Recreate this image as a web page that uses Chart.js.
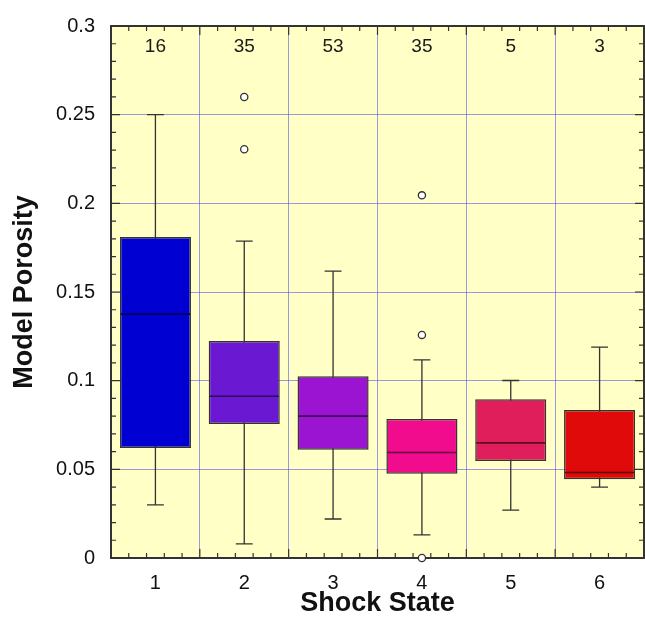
<!DOCTYPE html>
<html lang="en">
<head>
  <meta charset="UTF-8">
  <title>Model Porosity by Shock State</title>
  <script src="https://cdn.jsdelivr.net/npm/chart.js"></script>
  <style>
    body {
      margin: 0;
      background: white;
    }

    .chart-box {
      width: 645px;
      height: 628px;
      position: relative;
    }
  </style>
</head>
<body>
  <div class="chart-box">
    <canvas id="porosityChart"></canvas>
  </div>

  <script>
    // box plot values per shock state
    const categories = ['1', '2', '3', '4', '5', '6'];
    const counts = [16, 35, 53, 35, 5, 3];
    const whiskerLow = [0.030, 0.008, 0.022, 0.013, 0.027, 0.040];
    const q1 = [0.062, 0.0755, 0.061, 0.0475, 0.0547, 0.0444];
    const medians = [0.1375, 0.0912, 0.080, 0.0595, 0.0649, 0.0482];
    const q3 = [0.181, 0.1223, 0.1025, 0.0784, 0.0895, 0.0835];
    const whiskerHigh = [0.250, 0.1787, 0.1618, 0.1117, 0.1001, 0.1189];
    const outlierCats = ['2', '2', '4', '4', '4'];
    const outlierVals = [0.260, 0.2305, 0.2045, 0.1258, 0.0];
    const yTicks = [0, 0.05, 0.1, 0.15, 0.2, 0.25, 0.3];
    const yTickLabels = ['0', '0.05', '0.1', '0.15', '0.2', '0.25', '0.3'];

    const boxColors = ['#0000d2', '#6a18d2', '#9a14d2', '#f00c8c', '#e01e5c', '#e00a0a'];
    const inkColor = '#333333';
    const gridColor = 'rgba(70, 70, 235, 0.55)';
    const fontFamily = '"Liberation Sans", Arial, Helvetica, sans-serif';

    function shade(hex, f) {
      const n = parseInt(hex.slice(1), 16);
      const r = Math.round(((n >> 16) & 255) * f);
      const g = Math.round(((n >> 8) & 255) * f);
      const b = Math.round((n & 255) * f);
      return `rgb(${r}, ${g}, ${b})`;
    }

    const boxParts = {
      id: 'boxParts',
      beforeDraw(chart) {
        const { ctx, chartArea: a } = chart;
        ctx.save();
        ctx.fillStyle = '#ffffc6';
        ctx.fillRect(a.left, a.top, a.right - a.left, a.bottom - a.top);
        ctx.restore();
      },
      beforeDatasetsDraw(chart) {
        const { ctx, chartArea: a, scales: { x, y } } = chart;
        const step = x.getPixelForValue(1) - x.getPixelForValue(0);
        ctx.save();

        // whiskers, behind the boxes
        ctx.strokeStyle = inkColor;
        ctx.lineWidth = 1.3;
        categories.forEach((c, i) => {
          const cx = x.getPixelForValue(i);
          const lo = y.getPixelForValue(whiskerLow[i]);
          const hi = y.getPixelForValue(whiskerHigh[i]);
          const cap = step * 0.095;
          ctx.beginPath();
          ctx.moveTo(cx, lo);
          ctx.lineTo(cx, hi);
          ctx.moveTo(cx - cap, lo);
          ctx.lineTo(cx + cap, lo);
          ctx.moveTo(cx - cap, hi);
          ctx.lineTo(cx + cap, hi);
          ctx.stroke();
        });

        // inward tick marks on all four sides
        ctx.lineWidth = 1.2;
        ctx.beginPath();
        for (let k = 0; k <= 30; k++) {
          const py = y.getPixelForValue(k / 100);
          const len = k % 5 === 0 ? 9 : 5;
          ctx.moveTo(a.left, py);
          ctx.lineTo(a.left + len, py);
          ctx.moveTo(a.right, py);
          ctx.lineTo(a.right - len, py);
        }
        const x0 = x.getPixelForValue(0) - step / 2;
        for (let k = 0; k <= categories.length * 5; k++) {
          const px = x0 + k * step / 5;
          const len = k % 5 === 0 ? 9 : 5;
          ctx.moveTo(px, a.bottom);
          ctx.lineTo(px, a.bottom - len);
          ctx.moveTo(px, a.top);
          ctx.lineTo(px, a.top + len);
        }
        ctx.stroke();

        // frame
        ctx.lineWidth = 2;
        ctx.strokeRect(a.left, a.top, a.right - a.left, a.bottom - a.top);
        ctx.restore();
      },
      afterDatasetsDraw(chart) {
        const { ctx, chartArea: a, scales: { x, y } } = chart;
        const bars = chart.getDatasetMeta(0).data;
        ctx.save();
        ctx.lineWidth = 1.6;
        categories.forEach((c, i) => {
          const bar = bars[i];
          const half = bar.width / 2;
          const my = y.getPixelForValue(medians[i]);
          ctx.strokeStyle = shade(boxColors[i], 0.4);
          ctx.beginPath();
          ctx.moveTo(bar.x - half + 1, my);
          ctx.lineTo(bar.x + half - 1, my);
          ctx.stroke();
        });

        // sample counts along the top
        ctx.fillStyle = '#1a1a1a';
        ctx.font = `19px ${fontFamily}`;
        ctx.textAlign = 'center';
        ctx.textBaseline = 'middle';
        counts.forEach((n, i) => {
          ctx.fillText(String(n), x.getPixelForValue(i), a.top + 21);
        });
        ctx.restore();
      }
    };

    const ctx = document.getElementById('porosityChart').getContext('2d');
    const porosityChart = new Chart(ctx, {
      type: 'bar',
      data: {
        labels: categories,
        datasets: [{
          label: 'Model Porosity',
          data: categories.map((c, i) => [q1[i], q3[i]]),
          backgroundColor: boxColors,
          borderColor: inkColor,
          borderWidth: 1.5,
          borderSkipped: false,
          barPercentage: 0.8,
          categoryPercentage: 1.0
        }, {
          type: 'scatter',
          label: 'Outliers',
          data: outlierCats.map((c, i) => ({ x: c, y: outlierVals[i] })),
          pointRadius: 3.6,
          pointBackgroundColor: '#ffffff',
          pointBorderColor: inkColor,
          pointBorderWidth: 1.3,
          clip: false
        }]
      },
      options: {
        responsive: true,
        maintainAspectRatio: false,
        animation: false,
        layout: {
          autoPadding: false,
          padding: { left: 0, top: 26, right: 1, bottom: 0 }
        },
        plugins: {
          legend: { display: false },
          tooltip: { enabled: false }
        },
        scales: {
          x: {
            type: 'category',
            offset: true,
            afterFit: s => {
              s.height = 70;
              s.paddingLeft = 0;
              s.paddingRight = 0;
            },
            grid: {
              offset: true,
              drawTicks: false,
              color: gridColor,
              lineWidth: 1
            },
            border: { display: false },
            ticks: {
              padding: 13,
              color: '#111',
              font: { family: fontFamily, size: 20 }
            },
            title: {
              display: true,
              text: 'Shock State',
              color: '#111',
              padding: { top: 0, bottom: 8 },
              font: { family: fontFamily, size: 27, weight: 'bold' }
            }
          },
          y: {
            min: 0,
            max: 0.3,
            afterFit: s => {
              s.width = 111;
              s.paddingTop = 0;
              s.paddingBottom = 0;
            },
            afterBuildTicks: s => { s.ticks = yTicks.map(v => ({ value: v })); },
            grid: {
              drawTicks: false,
              color: gridColor,
              lineWidth: 1
            },
            border: { display: false },
            ticks: {
              padding: 16,
              color: '#111',
              font: { family: fontFamily, size: 20 },
              callback: (v, i) => yTickLabels[i]
            },
            title: {
              display: true,
              text: 'Model Porosity',
              color: '#111',
              padding: { top: 8, bottom: 0 },
              font: { family: fontFamily, size: 27, weight: 'bold' }
            }
          }
        }
      },
      plugins: [boxParts]
    });
  </script>
</body>
</html>
